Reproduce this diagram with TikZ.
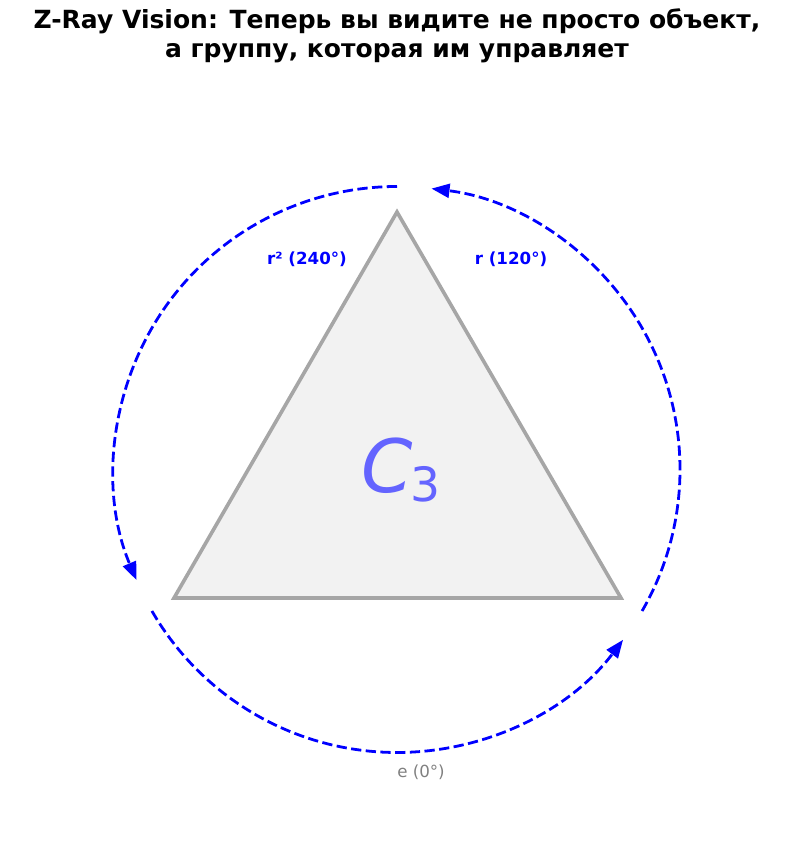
\documentclass[tikz,border=0pt]{standalone}
\usepackage{fontspec}
\setmainfont{DejaVu Sans}
\usepackage{tikz}
\usetikzlibrary{arrows.meta,calc}
\definecolor{rotblue}{RGB}{0,0,255}
\definecolor{edgegray}{RGB}{166,166,166}
\definecolor{facegray}{RGB}{242,242,242}
\definecolor{groupblue}{RGB}{100,100,255}
\tikzstyle{rotarc} = [draw=rotblue, line width=2pt, dash pattern=on 7.4pt off 3.2pt, -{Triangle[length=13pt,width=10pt]}]
\tikzstyle{rotlabel} = [text=rotblue, font=\fontsize{12}{14}\selectfont\bfseries, inner sep=0pt]
\tikzstyle{tribox} = [draw=edgegray, fill=facegray, line width=2.6pt]

\begin{document}
\begin{tikzpicture}[x=0.72pt, y=0.72pt]
\useasboundingbox (0,0) rectangle (794,865);

% title
\node [align=center, font=\fontsize{18}{20.5}\selectfont\bfseries] (title) at (397,829)
    {Z-Ray Vision: Теперь вы видите не просто объект,\\ а группу, которая им управляет};

% triangle and centre
\coordinate (O) at (397,395.5);
\coordinate (top) at (397,653);
\coordinate (left) at (174,267);
\coordinate (right) at (621,267);
\draw [tribox] (top) -- (left) -- (right) -- cycle;
\node [text=groupblue, inner sep=0pt] (group) at (401,395) {%
    \fontsize{53}{60}\selectfont\itshape C\kern-0.03em\raisebox{-0.12em}{\fontsize{34}{40}\selectfont\upshape 3}};

% rotation arcs
\draw [rotarc] ($(O)+(-30:283)$) arc[start angle=-30, end angle=83, radius=283];
\draw [rotarc] ($(O)+(90:283)$) arc[start angle=90, end angle=203, radius=283];
\draw [rotarc] ($(O)+(210:283)$) arc[start angle=210, end angle=323, radius=283];

% labels
\node [rotlabel] (rone) at (511,606) {r (120°)};
\node [rotlabel] (rtwo) at (307,606) {r² (240°)};
\node [text=gray, font=\fontsize{12}{14}\selectfont, inner sep=0pt] (ident) at (421,93) {e (0°)};
\end{tikzpicture}
\end{document}
